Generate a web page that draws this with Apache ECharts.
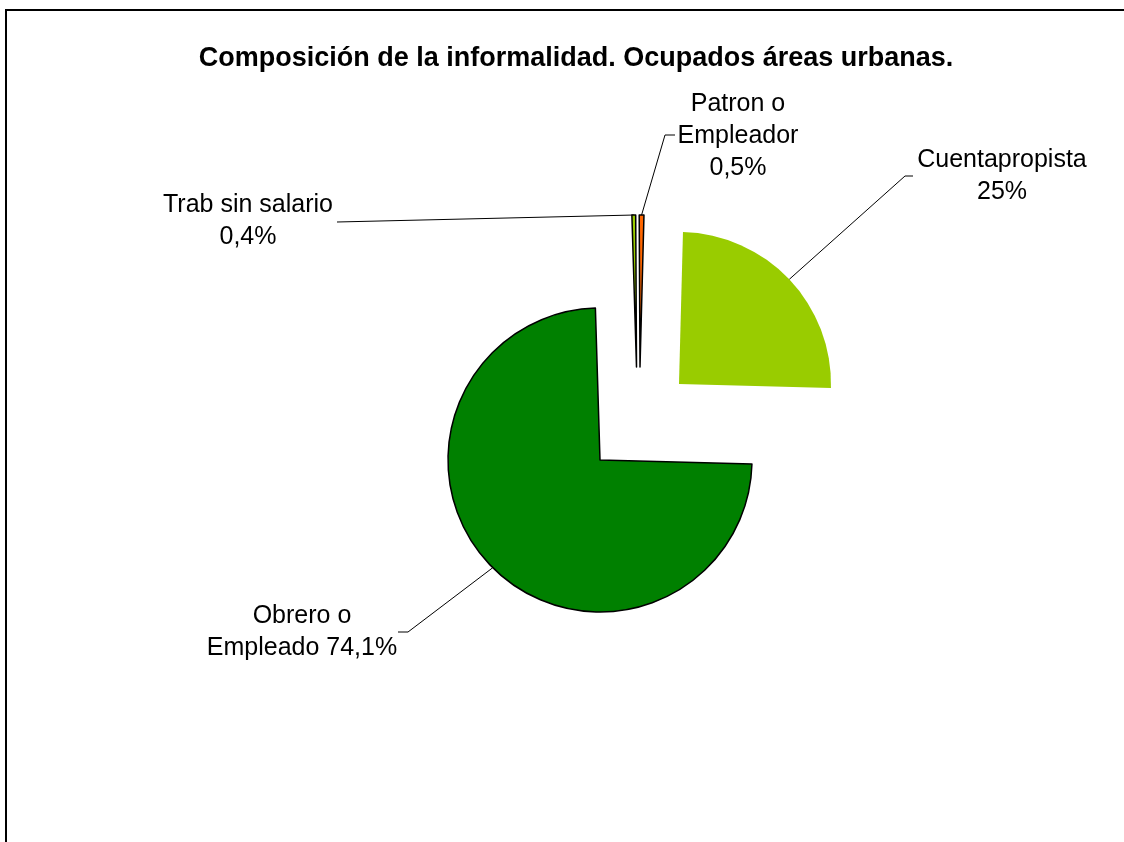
<!DOCTYPE html>
<html>
<head>
<meta charset="utf-8">
<script src="https://cdn.jsdelivr.net/npm/echarts@6/dist/echarts.min.js"></script>
<style>
  html, body { margin: 0; padding: 0; background: #fff; }
  #main { width: 1124px; height: 842px; }
</style>
</head>
<body>
<div id="main"></div>
<script>
// data (clockwise from 12 o'clock, as in the source pie)
var categories = ['Cuentapropista', 'Obrero o\nEmpleado', 'Trab sin salario', 'Patron o\nEmpleador'];
var values = [25, 74.1, 0.4, 0.5];
var separators = ['\n', ' ', '\n', '\n'];   // between name and percentage in each label
var colors = ['#99CC00', '#008000', '#99CC00', '#FF6600'];
var borders = [0, 1.5, 1.5, 1.5];

// each slice is drawn in its own series so it can be pulled out on its own
var centers = [[679, 384], [600, 460], [636.5, 367], [640, 367]];
var radius = 152;

// label placement (block centre) and connector bend / end
var labelPos = [[1002, 176], [302, 632], [248, 221], [738, 136]];
var lineBend = [[905, 176], [408, 632], [337, 222], [665, 135]];
var lineEnd = [[913, 176], [398, 632], [337, 222], [675, 135]];

function pct(v) {
    return String(v).replace('.', ',') + '%';
}

var chartDom = document.getElementById('main');
var myChart = echarts.init(chartDom);

var series = categories.map(function (name, i) {
    return {
        type: 'pie',
        center: centers[i],
        radius: radius,
        startAngle: 88.5,
        clockwise: true,
        avoidLabelOverlap: false,
        silent: true,
        emphasis: { disabled: true },
        data: values.map(function (v, j) {
            var own = (j === i);
            return {
                name: categories[j],
                value: v,
                itemStyle: own ? {
                    color: colors[j],
                    borderColor: '#000',
                    borderWidth: borders[j]
                } : { color: 'rgba(0,0,0,0)', borderWidth: 0 },
                label: { show: own },
                labelLine: { show: own }
            };
        }),
        label: {
            position: 'outside',
            color: '#000',
            fontFamily: 'Liberation Sans, Arial, sans-serif',
            fontSize: 25,
            lineHeight: 32,
            formatter: function (p) {
                return p.name + separators[p.dataIndex] + pct(p.value);
            }
        },
        labelLine: {
            length: 20,
            length2: 10,
            lineStyle: { color: '#000', width: 1 }
        },
        labelLayout: function (params) {
            var k = params.dataIndex;
            var pts = params.labelLinePoints;
            var start = pts ? pts[0] : lineBend[k];
            return {
                x: labelPos[k][0],
                y: labelPos[k][1],
                align: 'center',
                verticalAlign: 'middle',
                labelLinePoints: [start, lineBend[k], lineEnd[k]]
            };
        }
    };
});

var option = {
    animation: false,
    title: {
        text: 'Composición de la informalidad. Ocupados áreas urbanas.',
        left: 571,
        top: 40,
        textAlign: 'center',
        textStyle: {
            fontFamily: 'Liberation Sans, Arial, sans-serif',
            fontSize: 27,
            fontWeight: 'bold',
            color: '#000'
        }
    },
    graphic: [{
        type: 'rect',
        shape: { x: 6, y: 10, width: 1200, height: 900 },
        style: { fill: 'none', stroke: '#000', lineWidth: 2 },
        silent: true
    }],
    series: series
};

myChart.setOption(option);
</script>
</body>
</html>
